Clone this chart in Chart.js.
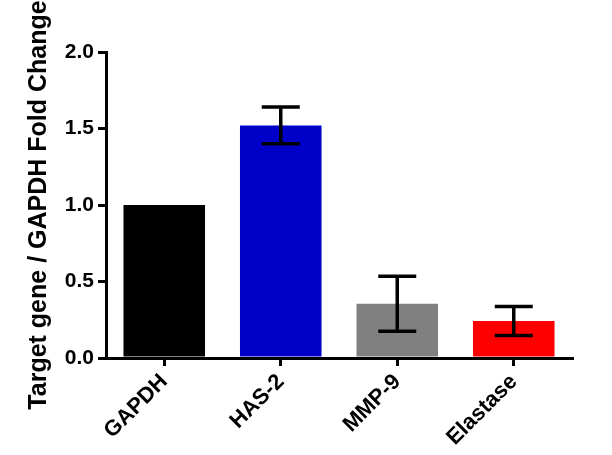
<!DOCTYPE html>
<html>
<head>
<meta charset="utf-8">
<script src="https://cdn.jsdelivr.net/npm/chart.js@4"></script>
<style>
  html, body { margin: 0; padding: 0; background: #fff; }
  #wrap { width: 612px; height: 455px; }
</style>
</head>
<body>
<div id="wrap"><canvas id="foldChart" width="612" height="455"></canvas></div>
<script>
// data
const genes = ['GAPDH', 'HAS-2', 'MMP-9', 'Elastase'];
const foldChange = [1.0, 1.52, 0.355, 0.242];
const sem = [0, 0.12, 0.18, 0.095];
const barColors = ['#000000', '#0000C8', '#808080', '#FF0000'];
const yTicks = [0, 0.5, 1.0, 1.5, 2.0];

const fontFam = '"Liberation Sans", Arial, sans-serif';

// error bars, drawn with the y scale of the chart
const errorBars = {
  id: 'errorBars',
  afterDatasetsDraw(chart) {
    const ctx = chart.ctx;
    const meta = chart.getDatasetMeta(0);
    const y = chart.scales.y;
    ctx.save();
    ctx.strokeStyle = '#000';
    ctx.lineWidth = 3.5;
    meta.data.forEach((bar, i) => {
      if (!sem[i]) return;
      const top = y.getPixelForValue(foldChange[i] + sem[i]);
      const bot = y.getPixelForValue(foldChange[i] - sem[i]);
      const half = 19;
      ctx.beginPath();
      ctx.moveTo(bar.x, top); ctx.lineTo(bar.x, bot);
      ctx.moveTo(bar.x - half, top); ctx.lineTo(bar.x + half, top);
      ctx.moveTo(bar.x - half, bot); ctx.lineTo(bar.x + half, bot);
      ctx.stroke();
    });
    ctx.restore();
  }
};

const ctx = document.getElementById('foldChart').getContext('2d');
new Chart(ctx, {
  type: 'bar',
  data: {
    labels: genes,
    datasets: [{
      data: foldChange,
      backgroundColor: barColors,
      borderWidth: 0,
      barPercentage: 0.7,
      categoryPercentage: 1.0
    }]
  },
  options: {
    responsive: false,
    animation: false,
    layout: { padding: { top: 52, right: 40, left: 0, bottom: 0 } },
    plugins: { legend: { display: false }, tooltip: { enabled: false } },
    scales: {
      x: {
        grid: { display: true, drawOnChartArea: false, offset: false, color: '#000', lineWidth: 3, tickLength: 8 },
        border: { display: true, color: '#000', width: 3 },
        ticks: {
          color: '#000', minRotation: 45, maxRotation: 45, padding: 3, autoSkip: false,
          font: { family: fontFam, size: 22, weight: 'bold' }
        },
        afterFit(scale) { scale.height = 97; }
      },
      y: {
        min: 0, max: 2.0,
        afterBuildTicks(scale) { scale.ticks = yTicks.map(v => ({ value: v })); },
        grid: { display: true, drawOnChartArea: false, color: '#000', lineWidth: 3, tickLength: 8 },
        border: { display: true, color: '#000', width: 3 },
        ticks: {
          color: '#000', padding: 4,
          callback: v => v.toFixed(1),
          font: { family: fontFam, size: 21, weight: 'bold' }
        },
        title: {
          display: true,
          text: 'Target gene / GAPDH Fold Change',
          color: '#000',
          padding: { top: 24, bottom: 4 },
          font: { family: fontFam, size: 25, weight: 'bold' }
        },
        afterFit(scale) { scale.width = 106; }
      }
    }
  },
  plugins: [errorBars]
});
</script>
</body>
</html>
